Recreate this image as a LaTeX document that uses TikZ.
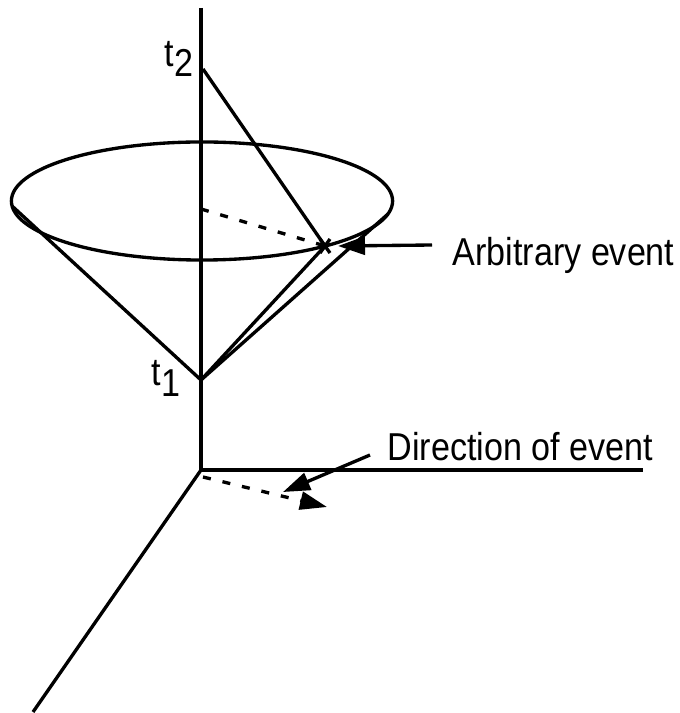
\documentclass[tikz,border=0pt]{standalone}
\usepackage{fontspec}
\setmainfont{Liberation Sans}
\usetikzlibrary{arrows.meta}
\newcommand{\tallt}[1]{\scalebox{1}[1.14]{#1}}

\begin{document}
\begin{tikzpicture}[
  x=0.01cm, y=-0.01cm,
  line width=0.95pt,
  lbl/.style  = {inner sep=0pt, font=\fontsize{9.7}{12}\selectfont},
  tri/.style  = {-{Triangle[length=0.27cm, width=0.18cm]}},
  dsh/.style  = {dash pattern=on 0.08cm off 0.12cm},
]
\useasboundingbox (0,0) rectangle (679,713);

\coordinate (orig)  at (201,470);
\coordinate (ztop)  at (201,8);
\coordinate (xend)  at (643,470);
\coordinate (yend)  at (33,712);
\coordinate (cone)  at (202,201);
\coordinate (apex)  at (201,380);
\coordinate (top)   at (203,69);
\coordinate (ev)    at (325,246);
\coordinate (lrim)  at (12,206);
\coordinate (rrim)  at (388,214);
\coordinate (mid)   at (201,209);
\coordinate (arbA)  at (432,245);
\coordinate (arbB)  at (338,246);
\coordinate (dirA)  at (370,455);
\coordinate (dirB)  at (283,492);
\coordinate (projA) at (203,477);
\coordinate (projB) at (327,507);

\draw (ztop) -- (orig) -- (xend);
\draw (orig) -- (yend);

\draw (cone) ellipse [x radius=1.905cm, y radius=0.59cm];
\draw (apex) -- (lrim);
\draw (apex) -- (rrim);
\draw (apex) -- (ev);
\draw (top)  -- (ev);
\draw[dsh] (mid) -- (ev);
\draw (ev) +(-5,-7) -- +(5,7) (ev) +(5,-7) -- +(-5,7);

\node[lbl, anchor=base west] (t2) at (163,67)  {\tallt{t\raisebox{-0.24em}{2}}};
\node[lbl, anchor=base west] (t1) at (150,385) {\tallt{t\raisebox{-0.29em}{1}}};

\node[lbl, anchor=base west] (arb) at (451,266) {\tallt{Arbitrary event}};
\draw[tri] (arbA) -- (arbB);

\node[lbl, anchor=base west] (dir) at (386,460) {\tallt{Direction of event}};
\draw[tri] (dirA) -- (dirB);
\draw[dsh, tri] (projA) -- (projB);
\end{tikzpicture}
\end{document}
